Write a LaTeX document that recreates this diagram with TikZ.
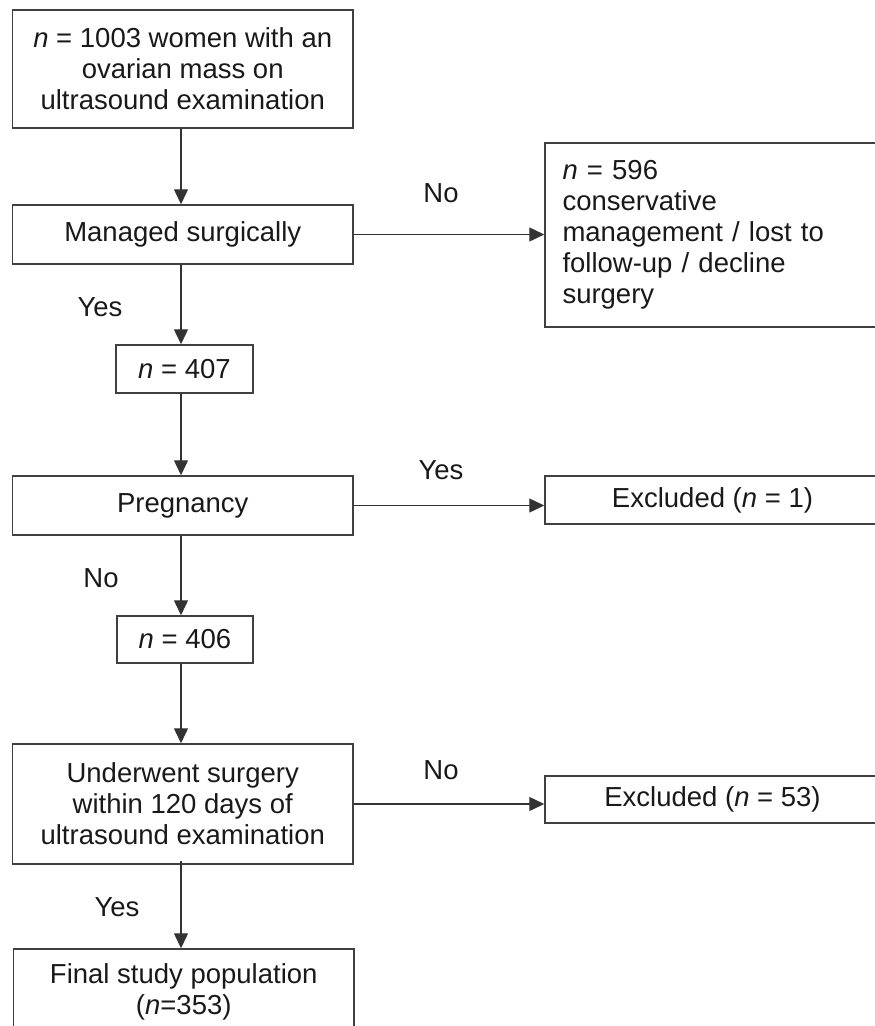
\documentclass[tikz,border=0pt]{standalone}
\usepackage{fontspec}
\setmainfont{Liberation Sans}
\usetikzlibrary{arrows.meta}
\begin{document}
\begin{tikzpicture}[x=1pt,y=-1pt,
  every node/.style={font=\fontsize{27.5}{31}\selectfont, inner sep=0pt, text=black!90},
  box/.style={draw=black!75, line width=1.5pt, align=center},
  lbox/.style={draw=black!75, line width=1.5pt, align=left},
  arr/.style={draw=black!80, line width=1.4pt, -{Triangle[length=15pt,width=14pt]}},
  lab/.style={}]
\useasboundingbox (0,0) rectangle (875,1026);
\node[box, minimum width=340.5pt, minimum height=118pt] (top) at (182.75,69) {\textit{n} = 1003 women with an\\ovarian mass on\\ultrasound examination};
\node[box, minimum width=340.5pt, minimum height=59pt] (man) at (182.75,234.5) {Managed surgically};
\node[lbox, minimum width=335pt, minimum height=184pt, text width=300pt] (r1) at (712.5,235) {\textit{n} = 596\\conservative\\management / lost to\\follow-up / decline\\surgery};
\node[box, minimum width=137pt, minimum height=48pt] (n407) at (184.5,369) {\textit{n} = 407};
\node[box, minimum width=340.5pt, minimum height=59pt] (preg) at (182.75,505.5) {Pregnancy};
\node[box, minimum width=335pt, minimum height=48pt] (ex1) at (712.5,500) {Excluded (\textit{n} = 1)};
\node[box, minimum width=136pt, minimum height=47pt] (n406) at (185,639.5) {\textit{n} = 406};
\node[box, minimum width=340.5pt, minimum height=120pt] (und) at (182.75,804) {Underwent surgery\\within 120 days of\\ultrasound examination};
\node[box, minimum width=335pt, minimum height=47pt] (ex2) at (712.5,799.5) {Excluded (\textit{n} = 53)};
\node[box, minimum width=340.5pt, minimum height=86pt] (fin) at (183.75,992) {Final study population\\(\textit{n}=353)};

\draw[arr] (top.south -| 181,0) -- (man.north -| 181,0);
\draw[arr] (man.south -| 181,0) -- (n407.north -| 181,0);
\draw[arr] (n407.south -| 181,0) -- (preg.north -| 181,0);
\draw[arr] (preg.south -| 181,0) -- (n406.north -| 181,0);
\draw[arr] (n406.south -| 181,0) -- (und.north -| 181,0);
\draw[arr] ([yshift=4pt]und.south -| 181,0) -- (fin.north -| 181,0);
\draw[arr] (man.east) -- (man.east -| r1.west);
\draw[arr] (preg.east) -- (preg.east -| ex1.west);
\draw[arr] (und.east) -- (und.east -| ex2.west);

\node[lab] (l1) at (441,193) {No};
\node[lab] (l2) at (100,307) {Yes};
\node[lab] (l3) at (441,470) {Yes};
\node[lab] (l4) at (101,578) {No};
\node[lab] (l5) at (441,770) {No};
\node[lab] (l6) at (117,907) {Yes};
\end{tikzpicture}
\end{document}
